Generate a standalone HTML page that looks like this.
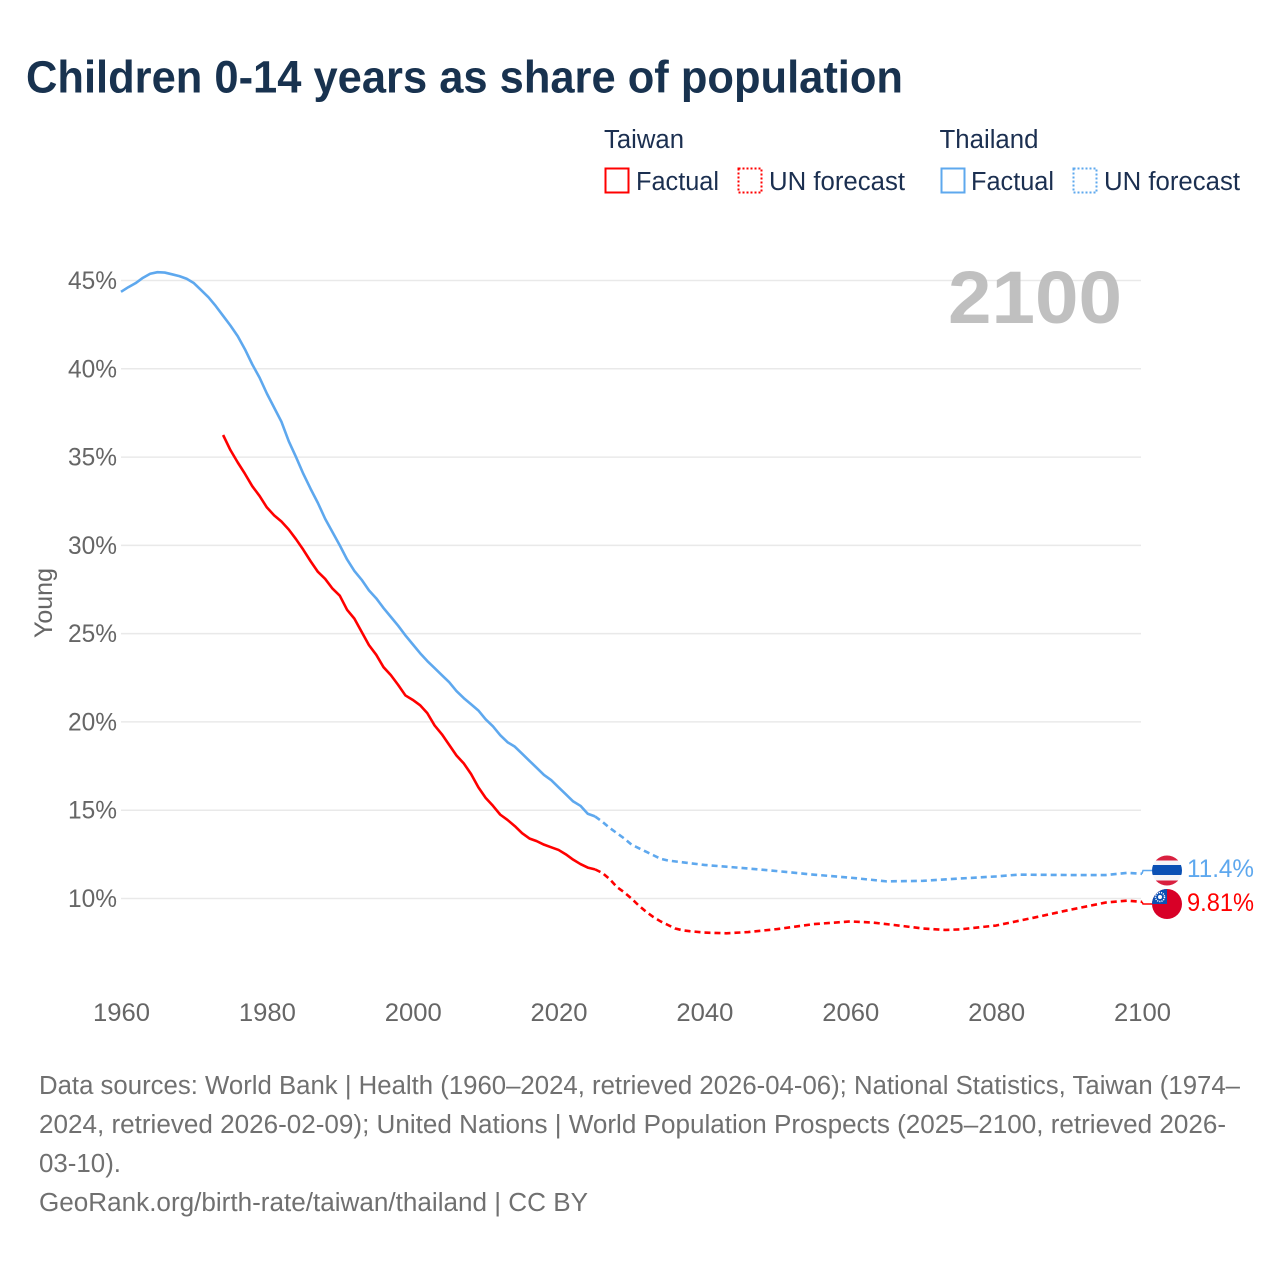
<!DOCTYPE html>
<html lang="en">
<head>
<meta charset="utf-8">
<title>Children 0-14 years as share of population</title>
<style>
html,body{margin:0;padding:0;background:#fff;width:1280px;height:1280px;overflow:hidden}
svg{display:block}
text{font-family:"Liberation Sans",sans-serif}
</style>
</head>
<body>
<svg id="chart" width="1280" height="1280" viewBox="0 0 1280 1280" xmlns="http://www.w3.org/2000/svg">
  <defs>
    <clipPath id="clip-th"><circle cx="1167" cy="870.5" r="15"/></clipPath>
    <clipPath id="clip-tw"><circle cx="1167" cy="904" r="15"/></clipPath>
  </defs>
  <rect width="1280" height="1280" fill="#fff"/>
  <text x="26" y="92.5" font-size="45" font-weight="700" fill="#18324f" textLength="877" lengthAdjust="spacingAndGlyphs">Children 0-14 years as share of population</text>

  <g font-size="25.5" fill="#1b2f50">
    <text x="604" y="148" textLength="80" lengthAdjust="spacingAndGlyphs">Taiwan</text>
    <rect x="605.5" y="168.5" width="23" height="24" fill="none" stroke="#ff0000" stroke-width="2"/>
    <text x="636" y="190" textLength="83" lengthAdjust="spacingAndGlyphs">Factual</text>
    <rect x="738.5" y="168.5" width="23" height="24" fill="none" stroke="#ff0000" stroke-width="2" stroke-dasharray="2 2"/>
    <text x="769" y="190" textLength="136" lengthAdjust="spacingAndGlyphs">UN forecast</text>
    <text x="939.5" y="148" textLength="99" lengthAdjust="spacingAndGlyphs">Thailand</text>
    <rect x="941.5" y="168.5" width="23" height="24" fill="none" stroke="#5ea8ee" stroke-width="2"/>
    <text x="971" y="190" textLength="83" lengthAdjust="spacingAndGlyphs">Factual</text>
    <rect x="1073.5" y="168.5" width="23" height="24" fill="none" stroke="#5ea8ee" stroke-width="2" stroke-dasharray="2 2"/>
    <text x="1104" y="190" textLength="136" lengthAdjust="spacingAndGlyphs">UN forecast</text>
  </g>

  <g id="grid"></g>
  <text x="948" y="323" font-size="74" font-weight="700" fill="#bbbbbb" fill-opacity="0.92" textLength="174" lengthAdjust="spacingAndGlyphs">2100</text>
  <g id="yticks"></g>
  <g id="xticks"></g>
  <text transform="translate(52,638) rotate(-90)" font-size="25" fill="#666666" textLength="70" lengthAdjust="spacingAndGlyphs">Young</text>
  <g id="series"></g>

  <g clip-path="url(#clip-th)">
    <rect x="1152" y="855.5" width="30" height="30" fill="#f4f5f8"/>
    <rect x="1152" y="855.5" width="30" height="5" fill="#d9203f"/>
    <rect x="1152" y="865" width="30" height="10" fill="#0a50b4"/>
    <rect x="1152" y="880.5" width="30" height="5" fill="#d9203f"/>
  </g>
  <g clip-path="url(#clip-tw)">
    <rect x="1152" y="889" width="30" height="30" fill="#d80027"/>
    <rect x="1152" y="889" width="15" height="15" fill="#0a50b4"/>
    <circle cx="1160" cy="897" r="4.5" fill="none" stroke="#fff" stroke-width="1.5" stroke-dasharray="1.2 1"/>
    <circle cx="1160" cy="897" r="2" fill="#fff"/>
  </g>
  <g id="endlabels"></g>

  <g font-size="25.5" fill="#707070">
    <text x="39" y="1094" textLength="1201" lengthAdjust="spacingAndGlyphs">Data sources: World Bank | Health (1960–2024, retrieved 2026-04-06); National Statistics, Taiwan (1974–</text>
    <text x="39" y="1133" textLength="1187" lengthAdjust="spacingAndGlyphs">2024, retrieved 2026-02-09); United Nations | World Population Prospects (2025–2100, retrieved 2026-</text>
    <text x="39" y="1172" textLength="82" lengthAdjust="spacingAndGlyphs">03-10).</text>
    <text x="39" y="1211" textLength="549" lengthAdjust="spacingAndGlyphs">GeoRank.org/birth-rate/taiwan/thailand | CC BY</text>
  </g>
</svg>
<script>
const yTicks = [10, 15, 20, 25, 30, 35, 40, 45];
const yTickLabels = ["10%", "15%", "20%", "25%", "30%", "35%", "40%", "45%"];
const xTicks = [1960, 1980, 2000, 2020, 2040, 2060, 2080, 2100];
const thailandFactualStart = 1960;
const thailandFactual = [44.36,44.62,44.85,45.15,45.38,45.47,45.45,45.35,45.25,45.1,44.85,44.45,44.05,43.55,43.0,42.45,41.85,41.1,40.25,39.5,38.6,37.8,37.0,35.9,35.0,34.05,33.2,32.4,31.5,30.75,30.0,29.2,28.55,28.05,27.45,27.0,26.45,25.95,25.45,24.9,24.4,23.9,23.45,23.05,22.65,22.25,21.75,21.35,21.0,20.65,20.15,19.75,19.25,18.85,18.6,18.2,17.8,17.4,17.0,16.7,16.3,15.9,15.5,15.25,14.8,14.65];
const taiwanFactualStart = 1974;
const taiwanFactual = [36.25,35.4,34.7,34.05,33.35,32.8,32.15,31.7,31.35,30.9,30.35,29.75,29.1,28.5,28.1,27.55,27.15,26.35,25.85,25.1,24.35,23.8,23.1,22.65,22.1,21.5,21.25,20.95,20.5,19.8,19.3,18.7,18.1,17.65,17.05,16.3,15.7,15.25,14.75,14.45,14.1,13.7,13.4,13.25,13.05,12.9,12.75,12.5,12.2,11.95,11.75,11.65];
const thailandForecastYears = [2025,2026,2027,2028,2029,2030,2031,2032,2033,2034,2035,2037,2040,2043,2046,2050,2055,2060,2065,2070,2075,2080,2083,2090,2095,2098,2100];
const thailandForecast = [14.65,14.35,14.0,13.7,13.4,13.05,12.85,12.65,12.45,12.25,12.15,12.05,11.9,11.8,11.7,11.55,11.35,11.18,10.97,11.0,11.13,11.25,11.35,11.33,11.33,11.45,11.4];
const taiwanForecastYears = [2025,2026,2027,2028,2029,2030,2031,2032,2033,2034,2035,2036,2037,2038,2040,2043,2046,2050,2055,2060,2063,2066,2070,2073,2075,2080,2085,2090,2095,2098,2100];
const taiwanForecast = [11.65,11.45,11.1,10.65,10.35,10.0,9.6,9.25,8.95,8.7,8.5,8.3,8.2,8.15,8.07,8.03,8.1,8.27,8.55,8.7,8.64,8.5,8.3,8.22,8.25,8.47,8.9,9.35,9.77,9.88,9.81];
const endLabels = ["11.4%", "9.81%"];

const NS = "http://www.w3.org/2000/svg";
const xScale = v => 121 + (v - 1960) * (1142 - 121) / 140;
const yScale = v => 898.5 - (v - 10) * (898.5 - 280.5) / 35;

function make(tag, parent, attrs, txt) {
  const el = document.createElementNS(NS, tag);
  for (const k in attrs) el.setAttribute(k, attrs[k]);
  if (txt !== undefined) el.textContent = txt;
  parent.appendChild(el);
  return el;
}
function pathFrom(xs, ys) {
  return xs.map((x, i) => (i ? "L" : "M") + xScale(x).toFixed(2) + " " + yScale(ys[i]).toFixed(2)).join(" ");
}

const grid = document.getElementById("grid");
const yt = document.getElementById("yticks");
const xt = document.getElementById("xticks");
const series = document.getElementById("series");
const ends = document.getElementById("endlabels");

yTicks.forEach((t, i) => {
  const line = make("line", grid, {x1: xScale(1960), x2: xScale(2100) - 1, y1: yScale(t), y2: yScale(t), stroke: "#e9e9e9", "stroke-width": 1.5});
  
  
  const label = make("text", yt, {x: 68, y: yScale(t) + 8.5, "font-size": 25, fill: "#666666", textLength: 49, lengthAdjust: "spacingAndGlyphs"}, yTickLabels[i]);
  
  
});
xTicks.forEach(t => {
  const label = make("text", xt, {x: xScale(t) - 28, y: 1021, "font-size": 25, fill: "#666666", textLength: 57, lengthAdjust: "spacingAndGlyphs"}, String(t));
  
  
});

function drawSeries(start, factual, fYears, forecast, color) {
  const years = factual.map((_, i) => start + i);
  const solid = make("path", series, {d: pathFrom(years, factual), fill: "none", stroke: color, "stroke-width": 2.6, "stroke-linejoin": "round"});
  
  
  const dashed = make("path", series, {d: pathFrom(fYears, forecast), fill: "none", stroke: color, "stroke-width": 2.6, "stroke-dasharray": "6 4", "stroke-linejoin": "round"});
  
  
}
drawSeries(thailandFactualStart, thailandFactual, thailandForecastYears, thailandForecast, "#5ea8ee");
drawSeries(taiwanFactualStart, taiwanFactual, taiwanForecastYears, taiwanForecast, "#ff0000");

const thEnd = yScale(thailandForecast[thailandForecast.length - 1]);
const twEnd = yScale(taiwanForecast[taiwanForecast.length - 1]);
const thLeader = make("polyline", series, {points: `${xScale(2100)},${thEnd} 1143,870.5 1152,870.5`, fill: "none", stroke: "#5ea8ee", "stroke-width": 1.5});


const twLeader = make("polyline", series, {points: `${xScale(2100)},${twEnd} 1143,904 1152,904`, fill: "none", stroke: "#ff0000", "stroke-width": 1.5});



const thLabel = make("text", ends, {x: 1187, y: 877, "font-size": 25, fill: "#5ea8ee", textLength: 67, lengthAdjust: "spacingAndGlyphs"}, endLabels[0]);


const twLabel = make("text", ends, {x: 1187, y: 911, "font-size": 25, fill: "#ff0000", textLength: 67, lengthAdjust: "spacingAndGlyphs"}, endLabels[1]);


</script>
</body>
</html>
